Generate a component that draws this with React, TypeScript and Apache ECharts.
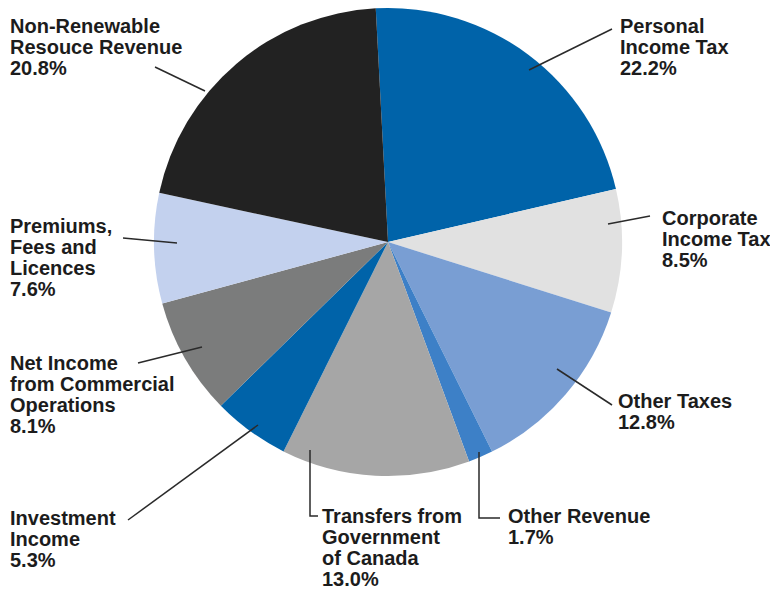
import React, { useEffect, useRef } from "react";
import * as echarts from "echarts";

const categories = [
  "Personal\nIncome Tax",
  "Corporate\nIncome Tax",
  "Other Taxes",
  "Other Revenue",
  "Transfers from\nGovernment\nof Canada",
  "Investment\nIncome",
  "Net Income\nfrom Commercial\nOperations",
  "Premiums,\nFees and\nLicences",
  "Non-Renewable\nResouce Revenue",
];
const shares = [22.2, 8.5, 12.8, 1.7, 13.0, 5.3, 8.1, 7.6, 20.8];
const colors = [
  "#0063a9",
  "#e1e1e1",
  "#799ed3",
  "#3d80c7",
  "#a6a6a6",
  "#0063a9",
  "#7b7c7c",
  "#c3d1ee",
  "#222222",
];

// label anchor (x, cap top) and leader line points, per slice
const labelPos: [number, number][] = [
  [620, 18],
  [662, 210],
  [618, 393],
  [508, 508],
  [322, 508],
  [10, 510],
  [10, 355],
  [10, 218],
  [10, 18],
];
const leaderLines: [number, number][][] = [
  [[529, 70], [612, 29]],
  [[608, 224], [650, 216]],
  [[557, 369], [612, 405]],
  [[479, 452], [479, 518], [500, 518]],
  [[310, 450], [310, 516], [318, 516]],
  [[258, 425], [128, 520]],
  [[202, 347], [138, 363]],
  [[177, 243], [123, 238]],
  [[205, 91], [155, 67]],
];

export default function App() {
  const ref = useRef<HTMLDivElement>(null);
  useEffect(() => {
    document.body.style.margin = "0";
    const chart = echarts.init(ref.current!, null, { renderer: "svg" });
    const graphics: any[] = [];
    categories.forEach((name, i) => {
      const pts = leaderLines[i];
      graphics.push({
        type: "polyline",
        z: 10,
        shape: { points: pts },
        style: { stroke: "#2a2a2a", lineWidth: 1.5, fill: null },
      });
      graphics.push({
        type: "text",
        z: 10,
        x: labelPos[i][0],
        y: labelPos[i][1] - 3,
        style: {
          text: `${name}\n${shares[i].toFixed(1)}%`,
          fontFamily: '"Liberation Sans", Arial, sans-serif',
          fontWeight: "bold",
          fontSize: 20,
          lineHeight: 21,
          fill: "#1c1c1c",
          align: "left",
          verticalAlign: "top",
        },
      });
    });
    chart.setOption({
      animation: false,
      backgroundColor: "#ffffff",
      series: [
        {
          type: "pie",
          center: [388, 242],
          radius: 234,
          startAngle: 93,
          clockwise: true,
          label: { show: false },
          labelLine: { show: false },
          emphasis: { disabled: true },
          itemStyle: { borderWidth: 0 },
          data: categories.map((n, i) => ({
            name: n,
            value: shares[i],
            itemStyle: { color: colors[i] },
          })),
        },
      ],
      graphic: graphics,
    });
    return () => chart.dispose();
  }, []);
  return <div ref={ref} style={{ width: 770, height: 592 }} />;
}
